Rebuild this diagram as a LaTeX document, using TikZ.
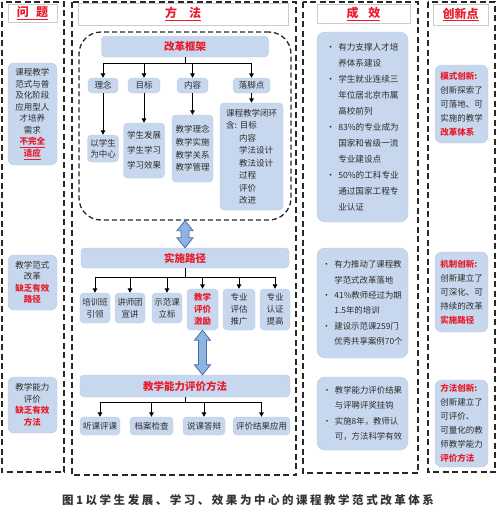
\documentclass[tikz,border=0pt]{standalone}
\usepackage{fontspec}
\setmainfont{Noto Sans CJK SC}
\newfontfamily\capfont[LetterSpace=22]{Noto Sans CJK SC}
\usetikzlibrary{arrows.meta,calc}
\definecolor{boxblue}{RGB}{199,215,237}
\definecolor{boxedge}{RGB}{184,202,228}
\definecolor{myred}{RGB}{232,28,44}
\definecolor{txt}{RGB}{45,45,45}
\definecolor{dashc}{RGB}{40,40,40}
\definecolor{arrfill}{RGB}{143,180,227}
\definecolor{arrdraw}{RGB}{70,110,170}
\newcommand\rd[1]{{\color{myred}\bfseries #1}}
\newcommand\bul{\makebox[12pt][l]{•}}
\newcommand\ind{\hspace*{12pt}}
\newcommand\dblarrow[2]{%
  \filldraw[fill=arrfill, draw=arrdraw, line width=0.8pt] let \p1=(#1), \p2=(#2) in
   (\x1,\y1) -- (\x1+8pt,\y1-10pt) -- (\x1+4pt,\y1-10pt) -- (\x1+4pt,\y2+10pt) --
   (\x1+8pt,\y2+10pt) -- (\x1,\y2) -- (\x1-8pt,\y2+10pt) -- (\x1-4pt,\y2+10pt) --
   (\x1-4pt,\y1-10pt) -- (\x1-8pt,\y1-10pt) -- cycle;}
\tikzset{
 colbox/.style={draw=dashc, line width=1.6pt, dash pattern=on 6pt off 3.5pt},
 hdr/.style={draw=gray!40, fill=white, line width=0.5pt, text=myred, font=\fontsize{12}{14}\selectfont\bfseries, inner sep=0pt},
 bb/.style={fill=boxblue, draw=boxedge, line width=0.4pt, rounded corners=4pt, inner sep=1pt, text=txt, font=\fontsize{8.5}{11.5}\selectfont, align=center},
 bbred/.style={bb, text=myred, font=\fontsize{10.5}{12}\selectfont\bfseries},
 tree/.style={draw=black, line width=1pt, -{Triangle[length=4.5pt,width=4.5pt]}},
}
\begin{document}
\begin{tikzpicture}[x=1pt,y=-1pt]
\useasboundingbox (0,0) rectangle (500,523);
% ---------- column 1
\draw[colbox] (2,2) rectangle (64,472);
\node[hdr, minimum width=49pt, minimum height=18pt] (h1) at (32.5,13) {\underline{问\hspace{0.6em}题}};
\node[bb, minimum width=49pt, minimum height=102pt, rounded corners=6pt] (p1) at (32.5,114)
 {课程教学\\范式与普\\及化阶段\\应用型人\\才培养\\需求\\\rd{\underline{不完全}}\\\rd{\underline{适应}}};
\node[bb, minimum width=49pt, minimum height=55pt, rounded corners=6pt] (p2) at (32.5,282.5)
 {教学范式\\改革\\\rd{缺乏有效}\\\rd{路径}};
\node[bb, minimum width=49pt, minimum height=56pt, rounded corners=6pt] (p3) at (32.5,405)
 {教学能力\\评价\\\rd{缺乏有效}\\\rd{方法}};
% ---------- column 2
\draw[colbox] (72,2) rectangle (296,475);
\node[hdr, minimum width=210pt, minimum height=22pt] (h2) at (183,14) {\underline{方\hspace{1em}法}};
\node[draw=dashc, line width=1.3pt, dash pattern=on 5pt off 3pt, rounded corners=22pt,
      minimum width=212pt, minimum height=188pt] (frame) at (185,126) {};
\node[bbred, minimum width=167pt, minimum height=21pt] (kg) at (185,46.5) {改革框架};
\node[bb, minimum width=30pt, minimum height=15pt] (ln) at (103,85.5) {理念};
\node[bb, minimum width=32pt, minimum height=15pt] (mb) at (144,85.5) {目标};
\node[bb, minimum width=31pt, minimum height=15pt] (nr) at (192.5,85.5) {内容};
\node[bb, minimum width=37pt, minimum height=15pt] (ljd) at (251.5,85.5) {落脚点};
\foreach \n in {ln,mb,nr,ljd} \draw[tree] (kg.south) -- ++(0,6) -| (\n.north);
\node[bb, minimum width=31pt, minimum height=27pt, font=\fontsize{8.5}{11}\selectfont] (yxs) at (103,148.5) {以学生\\为中心};
\node[bb, minimum width=41pt, minimum height=55pt, font=\fontsize{8.5}{15}\selectfont] (xsfz) at (144,150.5) {学生发展\\学生学习\\学习效果};
\node[bb, minimum width=41pt, minimum height=67pt, font=\fontsize{8.5}{12.7}\selectfont] (jxln) at (192.5,148.5) {教学理念\\教学实施\\教学关系\\教学管理};
\node[bb, minimum width=63pt, minimum height=107pt, font=\fontsize{8.5}{12.5}\selectfont, align=left] (bh) at (251.5,156.5)
 {课程教学闭环\\含:\hspace{3pt}目标\\\hspace*{13pt}内容\\\hspace*{13pt}学法设计\\\hspace*{13pt}教法设计\\\hspace*{13pt}过程\\\hspace*{13pt}评价\\\hspace*{13pt}改进};
\draw[tree] (ln.south) -- (yxs.north);
\draw[tree] (mb.south) -- (xsfz.north);
\draw[tree] (nr.south) -- (jxln.north);
\draw[tree] (ljd.south) -- (bh.north);
\node[bbred, minimum width=208pt, minimum height=20pt] (ssl) at (185,258) {实施路径};
\dblarrow{frame.south}{frame.south |- ssl.north}
\node[bb, minimum width=30pt, minimum height=30pt, font=\fontsize{8.5}{12}\selectfont] (s1) at (95,308) {培训班\\引领};
\node[bb, minimum width=30pt, minimum height=30pt, font=\fontsize{8.5}{12}\selectfont] (s2) at (130,308) {讲师团\\宣讲};
\node[bb, minimum width=30pt, minimum height=30pt, font=\fontsize{8.5}{12}\selectfont] (s3) at (167,308) {示范课\\立标};
\node[bb, minimum width=31pt, minimum height=41pt, font=\fontsize{8.5}{12}\selectfont\bfseries, text=myred] (s4) at (202.5,309.5) {教学\\评价\\激励};
\node[bb, minimum width=32pt, minimum height=41pt, font=\fontsize{8.5}{12}\selectfont] (s5) at (239,309.5) {专业\\评估\\推广};
\node[bb, minimum width=30pt, minimum height=41pt, font=\fontsize{8.5}{12}\selectfont] (s6) at (275,309.5) {专业\\认证\\提高};
\foreach \n in {s1,s2,s3,s4,s5,s6} \draw[tree] (ssl.south) -- ++(0,9) -| (\n.north);
\node[bbred, minimum width=210pt, minimum height=22pt] (pjff) at (185,386) {教学能力评价方法};
\dblarrow{s4.south}{s4.south |- pjff.north}
\node[bb, minimum width=40pt, minimum height=18pt] (e1) at (100,426) {听课评课};
\node[bb, minimum width=43pt, minimum height=18pt] (e2) at (151.5,426) {档案检查};
\node[bb, minimum width=42pt, minimum height=18pt] (e3) at (204,426) {说课答辩};
\node[bb, minimum width=57pt, minimum height=18pt] (e4) at (261.5,426) {评价结果应用};
\foreach \n in {e1,e2,e3,e4} \draw[tree] (pjff.south) -- ++(0,5) -| (\n.north);
% ---------- column 3
\draw[colbox] (303,2) rectangle (418,473);
\node[hdr, minimum width=93pt, minimum height=19pt] (h3) at (363.5,14) {\underline{成\hspace{0.8em}效}};
\node[bb, align=left, minimum width=91pt, minimum height=190pt, rounded corners=8pt, font=\fontsize{8.6}{16}\selectfont] (r1) at (362.5,127)
 {\bul 有力支撑人才培\\\ind 养体系建设\\\bul 学生就业连续三\\\ind 年位居北京市属\\\ind 高校前列\\\bul 83\%的专业成为\\\ind 国家和省级一流\\\ind 专业建设点\\\bul 50\%的工科专业\\\ind 通过国家工程专\\\ind 业认证};
\node[bb, align=left, minimum width=91pt, minimum height=110pt, rounded corners=8pt, font=\fontsize{8.4}{15.3}\selectfont] (r2) at (362.5,303)
 {\bul 有力推动了课程教\\\ind 学范式改革落地\\\bul 41\%教师经过为期\\\ind 1.5年的培训\\\bul 建设示范课259门\\\ind 优秀共享案例70个};
\node[bb, align=left, minimum width=91pt, minimum height=73pt, rounded corners=8pt, font=\fontsize{8.4}{15.5}\selectfont] (r3) at (362.5,413.5)
 {\bul 教学能力评价结果\\\ind 与评聘评奖挂钩\\\bul 实施8年，教师认\\\ind 可，方法科学有效};
% ---------- column 4
\draw[colbox] (428,2) rectangle (495,472);
\node[hdr, minimum width=55pt, minimum height=21pt] (h4) at (460.5,14.5) {\underline{创新点}};
\node[bb, align=left, minimum width=53pt, minimum height=78pt, rounded corners=7pt, font=\fontsize{8.5}{14}\selectfont] (c1) at (461.5,104)
 {\rd{模式创新:}\\创新探索了\\可落地、可\\实施的教学\\\rd{改革体系}};
\node[bb, align=left, minimum width=53pt, minimum height=80pt, rounded corners=7pt, font=\fontsize{8.5}{14}\selectfont] (c2) at (461.5,292)
 {\rd{机制创新:}\\创新建立了\\可深化、可\\持续的改革\\\rd{实施路径}};
\node[bb, align=left, minimum width=53pt, minimum height=87pt, rounded corners=7pt, font=\fontsize{8.5}{14}\selectfont] (c3) at (461.5,423.5)
 {\rd{方法创新:}\\创新建立了\\可评价、\\可量化的教\\师教学能力\\\rd{评价方法}};
% ---------- caption
\node[font=\capfont\bfseries\fontsize{11.5}{13}\selectfont, text=black!80] (cap) at (248,500)
 {图1以学生发展、学习、效果为中心的课程教学范式改革体系};
\end{tikzpicture}
\end{document}
